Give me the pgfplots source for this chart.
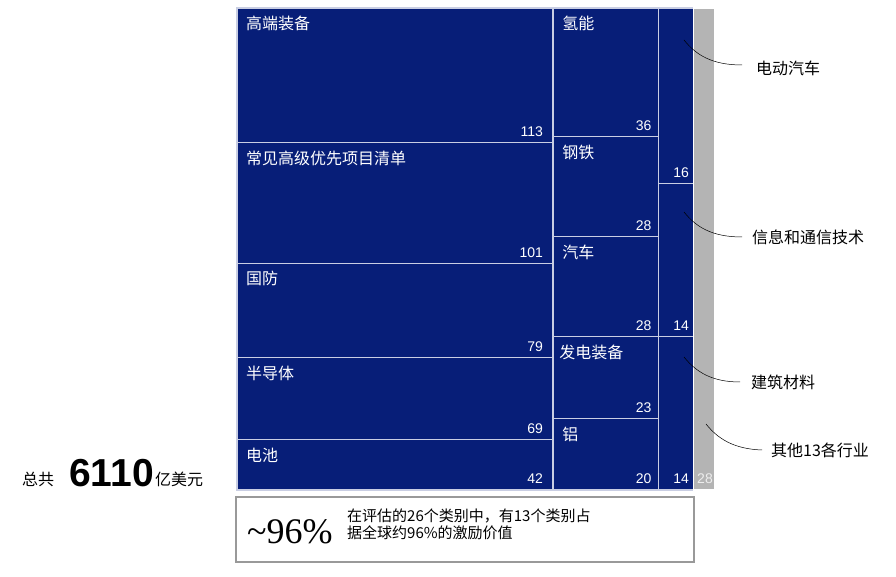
\documentclass[border=0pt]{standalone}
\usepackage{pgfplots}
\pgfplotsset{compat=1.18}
\usepackage{fontspec}
\setmainfont{Liberation Sans}
\newfontfamily\cjk{Noto Sans CJK SC}
\newfontfamily\tnr{Liberation Serif}
\definecolor{tmblue}{HTML}{071E78}
\definecolor{tmline}{HTML}{C9CEE3}
\definecolor{tmgrey}{HTML}{B4B4B4}

\pgfplotsset{
  tm/.style={
    scale only axis, width=478pt, height=482pt,
    at={(237pt,87pt)}, anchor=south west,
    xmin=0, xmax=611, ymin=0, y dir=reverse,
    enlargelimits=false, hide axis, clip=false,
    ybar stacked,
  },
  cell/.style={fill=tmblue, draw=tmline, line width=1.2pt},
}
\tikzset{
  nm/.style={anchor=north west, inner sep=0pt, xshift=9pt, yshift=-8pt,
    text=white, font=\cjk\fontsize{16}{16}\selectfont},
  val/.style={anchor=base east, inner sep=0pt, yshift=6pt,
    text=white, font=\fontsize{14}{14}\selectfont},
  ann/.style={anchor=west, inner sep=0pt, font=\cjk\fontsize{16}{16}\selectfont},
}

\begin{document}
\begin{tikzpicture}[x=1pt,y=1pt]
\path[use as bounding box] (0,0) rectangle (896,577);

% column 1
\begin{axis}[tm, ymax=404, bar width=404]
\addplot[cell] coordinates {(202,113)};
\addplot[cell] coordinates {(202,101)};
\addplot[cell] coordinates {(202,79)};
\addplot[cell] coordinates {(202,69)};
\addplot[cell] coordinates {(202,42)};
\coordinate (a0) at (axis cs:0,0);
\coordinate (a1) at (axis cs:0,113);
\coordinate (a2) at (axis cs:0,214);
\coordinate (a3) at (axis cs:0,293);
\coordinate (a4) at (axis cs:0,362);
\coordinate (av1) at (axis cs:404,113);
\coordinate (av2) at (axis cs:404,214);
\coordinate (av3) at (axis cs:404,293);
\coordinate (av4) at (axis cs:404,362);
\coordinate (av5) at (axis cs:404,404);
\end{axis}

% column 2
\begin{axis}[tm, ymax=135, bar width=135]
\addplot[cell] coordinates {(471.5,36)};
\addplot[cell] coordinates {(471.5,28)};
\addplot[cell] coordinates {(471.5,28)};
\addplot[cell] coordinates {(471.5,23)};
\addplot[cell] coordinates {(471.5,20)};
\coordinate (b0) at (axis cs:404,0);
\coordinate (b1) at (axis cs:404,36);
\coordinate (b2) at (axis cs:404,64);
\coordinate (b3) at (axis cs:404,92);
\coordinate (b4) at (axis cs:404,115);
\coordinate (bv1) at (axis cs:539,36);
\coordinate (bv2) at (axis cs:539,64);
\coordinate (bv3) at (axis cs:539,92);
\coordinate (bv4) at (axis cs:539,115);
\coordinate (bv5) at (axis cs:539,135);
\end{axis}

% column 3
\begin{axis}[tm, ymax=44, bar width=44]
\addplot[cell] coordinates {(561,16)};
\addplot[cell] coordinates {(561,14)};
\addplot[cell] coordinates {(561,14)};
\coordinate (cv1) at (axis cs:583,16);
\coordinate (cv2) at (axis cs:583,30);
\coordinate (cv3) at (axis cs:583,44);
\end{axis}

% column 4
\begin{axis}[tm, ymax=28, bar width=28]
\addplot[fill=tmgrey, draw=white, line width=1.2pt] coordinates {(597,28)};
\coordinate (dv1) at (axis cs:611,28);
\end{axis}

% cell labels
\node[nm] at (a0) {高端装备};
\node[nm] at (a1) {常见高级优先项目清单};
\node[nm] at (a2) {国防};
\node[nm] at (a3) {半导体};
\node[nm] at (a4) {电池};
\node[val, xshift=-10pt] at (av1) {113};
\node[val, xshift=-10pt] at (av2) {101};
\node[val, xshift=-10pt] at (av3) {79};
\node[val, xshift=-10pt] at (av4) {69};
\node[val, xshift=-10pt] at (av5) {42};
\node[nm] at (b0) {氢能};
\node[nm] at (b1) {钢铁};
\node[nm] at (b2) {汽车};
\node[nm, xshift=-3pt] at (b3) {发电装备};
\node[nm] at (b4) {铝};
\node[val, xshift=-7pt] at (bv1) {36};
\node[val, xshift=-7pt] at (bv2) {28};
\node[val, xshift=-7pt] at (bv3) {28};
\node[val, xshift=-7pt] at (bv4) {23};
\node[val, xshift=-7pt] at (bv5) {20};
\node[val, xshift=-4pt] at (cv1) {16};
\node[val, xshift=-4pt] at (cv2) {14};
\node[val, xshift=-4pt] at (cv3) {14};
\node[val, xshift=-2pt, text=white!93!black] at (dv1) {28};

% callouts
\draw[line width=0.5pt] (684,537) .. controls (696,522) and (712,512) .. (742,512);
\node[ann] at (756,509) {电动汽车};
\draw[line width=0.5pt] (684,365) .. controls (696,350) and (712,340) .. (742,340);
\node[ann] at (752,340) {信息和通信技术};
\draw[line width=0.5pt] (684,220) .. controls (696,205) and (712,195) .. (740,195);
\node[ann] at (751,195) {建筑材料};
\draw[line width=0.5pt] (706,153) .. controls (718,138) and (734,128) .. (762,127);
\node[ann] at (771,127) {其他13各行业};

% total
\node[anchor=base west, inner sep=0pt, font=\cjk\fontsize{16}{16}\selectfont] at (22,91) {总共};
\node[anchor=base west, inner sep=0pt, font=\bfseries\fontsize{39}{39}\selectfont] at (69,90) {6110};
\node[anchor=base west, inner sep=0pt, font=\cjk\fontsize{16}{16}\selectfont] at (155,91) {亿美元};

% note box
\draw[line width=1.2pt, draw=black!40] (236,15) rectangle (694,80);
\node[anchor=base west, inner sep=0pt, font=\tnr\fontsize{36}{36}\selectfont] at (247,33) {\char`\~96\%};
\node[anchor=base west, inner sep=0pt, font=\cjk\fontsize{15}{15}\selectfont] at (347,55) {在评估的26个类别中，有13个类别占};
\node[anchor=base west, inner sep=0pt, font=\cjk\fontsize{15}{15}\selectfont] at (347,38) {据全球约96\%的激励价值};
\end{tikzpicture}
\end{document}
